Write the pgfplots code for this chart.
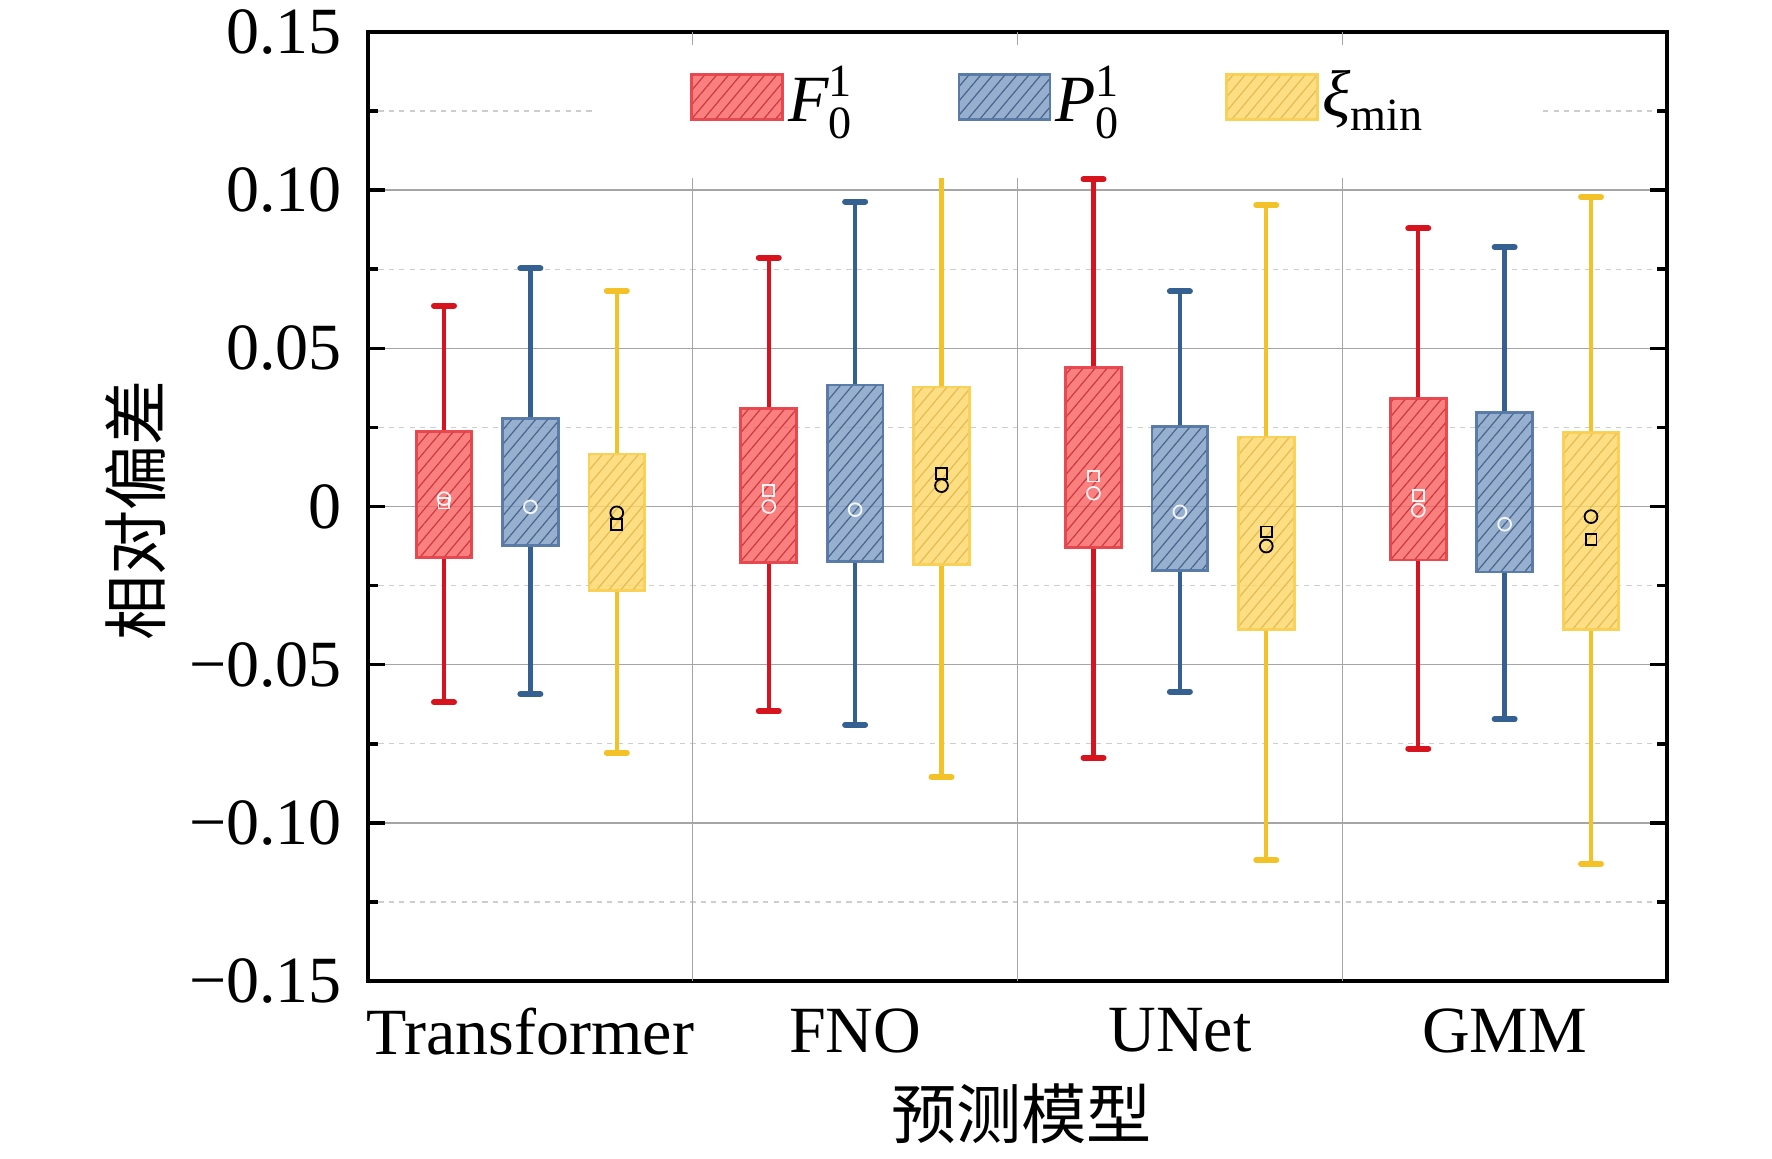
\documentclass[border=0pt]{standalone}
\usepackage{fontspec}
\setmainfont{Liberation Serif}
\newfontfamily\cjk{Noto Sans CJK SC}
\usepackage{amsmath}
\usepackage{pgfplots}
\pgfplotsset{compat=1.18}
\usetikzlibrary{patterns.meta}

\definecolor{rline}{RGB}{215,20,30}
\definecolor{rfill}{RGB}{249,96,96}
\definecolor{rhatch}{RGB}{195,45,55}
\definecolor{redge}{RGB}{232,70,78}
\definecolor{bline}{RGB}{52,96,146}
\definecolor{bfill}{RGB}{125,156,195}
\definecolor{bhatch}{RGB}{60,88,128}
\definecolor{bedge}{RGB}{88,122,168}
\definecolor{yline}{RGB}{242,194,40}
\definecolor{yfill}{RGB}{254,214,99}
\definecolor{yhatch}{RGB}{222,182,78}
\definecolor{yedge}{RGB}{250,208,85}
\definecolor{gridmaj}{RGB}{165,165,165}
\definecolor{gridmin}{RGB}{205,205,205}

\tikzset{
  rbox/.style={draw=redge, line width=0.7pt, fill=rfill, fill opacity=0.8, draw opacity=0.85,
    postaction={pattern={Lines[angle=50,distance=2.3pt,line width=0.3pt]}, pattern color=rhatch, fill opacity=0.8}},
  bbox/.style={draw=bedge, line width=0.7pt, fill=bfill, fill opacity=0.8, draw opacity=0.85,
    postaction={pattern={Lines[angle=50,distance=2.3pt,line width=0.3pt]}, pattern color=bhatch, fill opacity=0.8}},
  ybox/.style={draw=yedge, line width=0.7pt, fill=yfill, fill opacity=0.8, draw opacity=0.85,
    postaction={pattern={Lines[angle=50,distance=2.3pt,line width=0.3pt]}, pattern color=yhatch, fill opacity=0.8}},
}

% #1 position, #2 lower whisker, #3 lower quartile, #4 upper quartile, #5 upper whisker, #6 line colour, #7 box style
\newcommand{\myboxbody}[7]{%
  \pgfmathsetmacro\xl{#1-0.08575}%
  \pgfmathsetmacro\xr{#1+0.08575}%
  \addplot[#6, line width=1.1pt, forget plot] coordinates {(#1,#2) (#1,#3)};
  \addplot[#6, line width=1.1pt, forget plot] coordinates {(#1,#4) (#1,#5)};
  \addplot[#7, forget plot] coordinates {(\xl,#3) (\xr,#3) (\xr,#4) (\xl,#4)} -- cycle;
}
\newcommand{\mybox}[7]{%
  \myboxbody{#1}{#2}{#3}{#4}{#5}{#6}{#7}
  \addplot[#6, only marks, mark=-, mark size=2.5pt, mark options={line width=1.5pt, line cap=round}, forget plot]
    coordinates {(#1,#2) (#1,#5)};
}
% upper end hidden behind the legend: only the lower cap is drawn
\newcommand{\myboxlowcap}[7]{%
  \myboxbody{#1}{#2}{#3}{#4}{#5}{#6}{#7}
  \addplot[#6, only marks, mark=-, mark size=2.5pt, mark options={line width=1.5pt, line cap=round}, forget plot]
    coordinates {(#1,#2)};
}

\begin{document}
\begin{tikzpicture}
\useasboundingbox (-92pt,-44.25pt) rectangle (351pt,245.25pt);
\begin{axis}[
  at={(0,0)}, anchor=south west,
  scale only axis, width=324.75pt, height=237.25pt,
  xmin=0, xmax=4, ymin=-0.15, ymax=0.15,
  axis line style={line width=1.2pt},
  tick align=inside,
  every tick/.style={black, line width=0.9pt},
  major tick length=4.2pt, minor tick length=2.5pt,
  xtick={0.5,1.5,2.5,3.5},
  xticklabels={Transformer,FNO,UNet,GMM},
  xtick style={draw=none},
  xticklabel style={yshift=-3.3pt},
  ytick={-0.15,-0.1,-0.05,0,0.05,0.1,0.15},
  yticklabels={−0.15,−0.10,−0.05,0,0.05,0.10,0.15},
  yticklabel style={xshift=-3pt},
  minor y tick num=1,
  ytick pos=both, yticklabel pos=left,
  ymajorgrids, yminorgrids,
  major grid style={gridmaj, line width=0.35pt},
  minor grid style={gridmin, line width=0.35pt, dash pattern=on 1.3pt off 1.3pt},
  ticklabel style={font=\fontsize{16.5}{18}\selectfont},
  xlabel={\cjk\fontsize{16.3}{18}\selectfont 预测模型},
  ylabel={\cjk\fontsize{16.3}{18}\selectfont 相对偏差},
  xlabel style={at={(axis description cs:0.503,-0.140)}, anchor=center},
  ylabel style={at={(axis description cs:-0.1786,0.4957)}, anchor=center},
  legend columns=3,
  legend style={at={(axis cs:0.99,0.1295)}, anchor=west, draw=none, fill=none, inner sep=0pt,
    nodes={inner sep=1pt}, font=\fontsize{16.5}{18}\selectfont,
    /tikz/every even column/.append style={column sep=25pt}},
  legend cell align=left,
]
\addlegendimage{legend image code/.code={\draw[rbox] (0pt,-5.6pt) rectangle (22.75pt,5.6pt);}}
\addlegendentry{$\textit{F}^{\text{1}}_{\text{0}}$}
\addlegendimage{legend image code/.code={\draw[bbox] (0pt,-5.6pt) rectangle (22.75pt,5.6pt);}}
\addlegendentry{$\textit{P}^{\text{1}}_{\text{0}}$}
\addlegendimage{legend image code/.code={\draw[ybox] (0pt,-5.6pt) rectangle (22.75pt,5.6pt);}}
\addlegendentry{$\textit{ξ}_{\text{min}}$}

\draw[gridmaj, line width=0.35pt] (axis cs:1,-0.15) -- (axis cs:1,0.15);
\draw[gridmaj, line width=0.35pt] (axis cs:2,-0.15) -- (axis cs:2,0.15);
\draw[gridmaj, line width=0.35pt] (axis cs:3,-0.15) -- (axis cs:3,0.15);

% Transformer
\mybox{0.234}{-0.0619}{-0.0160}{0.0237}{0.0635}{rline}{rbox}
\mybox{0.5}{-0.0593}{-0.0124}{0.0279}{0.0753}{bline}{bbox}
\mybox{0.766}{-0.0779}{-0.0265}{0.0166}{0.0682}{yline}{ybox}
% FNO
\mybox{1.234}{-0.0647}{-0.0177}{0.0310}{0.0787}{rline}{rbox}
\mybox{1.5}{-0.0690}{-0.0175}{0.0384}{0.0964}{bline}{bbox}
\myboxlowcap{1.766}{-0.0855}{-0.0184}{0.0378}{0.1150}{yline}{ybox}
% UNet
\mybox{2.234}{-0.0794}{-0.0130}{0.0439}{0.1034}{rline}{rbox}
\mybox{2.5}{-0.0585}{-0.0203}{0.0254}{0.0680}{bline}{bbox}
\mybox{2.766}{-0.1118}{-0.0390}{0.0220}{0.0952}{yline}{ybox}
% GMM
\mybox{3.234}{-0.0765}{-0.0169}{0.0341}{0.0879}{rline}{rbox}
\mybox{3.5}{-0.0672}{-0.0207}{0.0296}{0.0820}{bline}{bbox}
\mybox{3.766}{-0.1129}{-0.0390}{0.0234}{0.0979}{yline}{ybox}

% circles and squares inside the boxes
\addplot[forget plot, only marks, mark=o, mark size=1.6pt, mark options={draw=white, draw opacity=0.9, line width=0.45pt}]
  coordinates {(0.234,0.0025) (1.234,0.0) (2.234,0.0042) (3.234,-0.0012)
               (0.5,-0.0001) (1.5,-0.0010) (2.5,-0.0017) (3.5,-0.0056)};
\addplot[forget plot, only marks, mark=square, mark size=1.35pt, mark options={draw=white, draw opacity=0.9, line width=0.45pt}]
  coordinates {(0.234,0.0011) (1.234,0.0050) (2.234,0.0096) (3.234,0.0034)};
\addplot[forget plot, only marks, mark=o, mark size=1.6pt, mark options={draw=black, line width=0.45pt}]
  coordinates {(0.766,-0.0020) (1.766,0.0066) (2.766,-0.0125) (3.766,-0.0032)};
\addplot[forget plot, only marks, mark=square, mark size=1.35pt, mark options={draw=black, line width=0.45pt}]
  coordinates {(0.766,-0.0056) (1.766,0.0104) (2.766,-0.0080) (3.766,-0.0105)};

\fill[white] (axis cs:0.702,0.104) rectangle (axis cs:3.609,0.146);

% top axis ticks
\draw[black, line width=0.9pt] (axis cs:0.1667,0.15) -- ++(0,-3.5pt);
\draw[black, line width=0.9pt] (axis cs:0.5,0.15) -- ++(0,-3.5pt);
\draw[black, line width=0.9pt] (axis cs:3.8333,0.15) -- ++(0,-3.5pt);
\draw[black, line width=0.9pt] (axis cs:0.8333,0.15) -- ++(0,-1.3pt);
\draw[black, line width=0.9pt] (axis cs:1.1667,0.15) -- ++(0,-1.3pt);
\draw[black, line width=0.9pt] (axis cs:1.5,0.15) -- ++(0,-1.3pt);
\draw[black, line width=0.9pt] (axis cs:1.8333,0.15) -- ++(0,-1.3pt);
\draw[black, line width=0.9pt] (axis cs:2.1667,0.15) -- ++(0,-1.3pt);
\draw[black, line width=0.9pt] (axis cs:2.5,0.15) -- ++(0,-1.3pt);
\draw[black, line width=0.9pt] (axis cs:2.8333,0.15) -- ++(0,-1.3pt);
\draw[black, line width=0.9pt] (axis cs:3.1667,0.15) -- ++(0,-1.3pt);
\draw[black, line width=0.9pt] (axis cs:3.5,0.15) -- ++(0,-1.3pt);
\end{axis}
\end{tikzpicture}
\end{document}
